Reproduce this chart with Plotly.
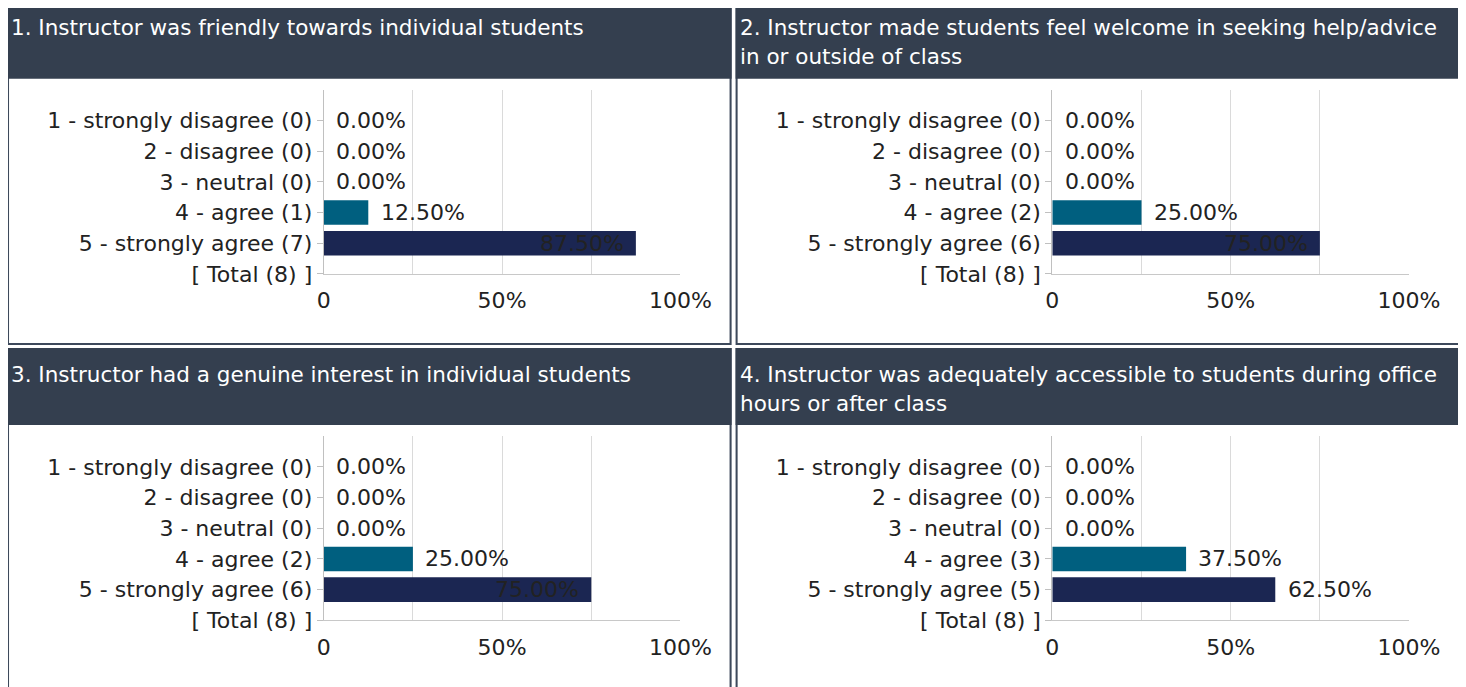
import plotly.graph_objects as go

# the capture comes back slightly shrunk (measured on earlier runs), so reference
# pixel positions are mapped through that to page pixels
AX, BX = 0.9724, 7.2
AY, BY = 0.98, -0.4
OX, OY = 8, 8  # body margin
W = round((1466 - BX) / AX) - OX
H = round((687 - BY) / AY) - OY
K = 1 / ((AX + AY) / 2)  # size factor for fonts / pixel lengths

QUESTIONS = [
    ["1. Instructor was friendly towards individual students"],
    ["2. Instructor made students feel welcome in seeking help/advice", "in or outside of class"],
    ["3. Instructor had a genuine interest in individual students"],
    ["4. Instructor was adequately accessible to students during office", "hours or after class"],
]
OPTIONS = ["1 - strongly disagree", "2 - disagree", "3 - neutral", "4 - agree", "5 - strongly agree"]
COUNTS = [
    [0, 0, 0, 1, 7],
    [0, 0, 0, 2, 6],
    [0, 0, 0, 2, 6],
    [0, 0, 0, 3, 5],
]
BAR_COLORS = ["#7a1f2b", "#b5651d", "#8c8c8c", "#005f7f", "#1b2652"]

HEADER_BG = "#343f4f"
BORDER = "#3d495b"
TEXT = "#222222"
FONT = "DejaVu Sans"
FS = 21.5 * K
FS_HEAD = 21 * K


def fx(x):
    return ((x - BX) / AX - OX) / W


def fy(y):
    return 1 - ((y - BY) / AY - OY) / H


fig = go.Figure()
shapes = []
annotations = []

for i, (lines, counts) in enumerate(zip(QUESTIONS, COUNTS)):
    col, row = i % 2, i // 2
    dx, dy = col * 727, row * 346
    n = i + 1
    xa = "x" if n == 1 else f"x{n}"
    ya = "y" if n == 1 else f"y{n}"
    total = sum(counts)
    pct = [c / total * 100 for c in counts]

    # panel frame + header band
    shapes.append(dict(type="rect", xref="paper", yref="paper",
                       x0=fx(8 + dx), x1=fx(729 + dx),
                       y0=fy(343 + dy + (400 if row else 0)), y1=fy(2 + dy),
                       line=dict(color=BORDER, width=2 * K), fillcolor="rgba(0,0,0,0)", layer="below"))
    shapes.append(dict(type="rect", xref="paper", yref="paper",
                       x0=fx(7 + dx), x1=fx(730 + dx), y0=fy(78 + dy), y1=fy(1 + dy),
                       line=dict(width=0), fillcolor=HEADER_BG, layer="below"))
    for j, line in enumerate(lines):
        annotations.append(dict(xref="paper", yref="paper", x=fx(9 + dx), y=fy(27 + 29 * j + dy),
                                xanchor="left", yanchor="middle", align="left", showarrow=False,
                                text=line, font=dict(family=FONT, size=FS_HEAD, color="white")))

    fig.add_trace(go.Bar(
        x=pct, y=list(range(len(OPTIONS))), orientation="h", width=0.8,
        marker=dict(color=BAR_COLORS, line=dict(width=0)),
        xaxis=xa, yaxis=ya, showlegend=False, hoverinfo="skip",
    ))

    for k, v in enumerate(pct):
        inside = v >= 75
        annotations.append(dict(xref=xa, yref=ya, x=v, y=k, showarrow=False,
                                xanchor="right" if inside else "left",
                                xshift=-10 * K if inside else 10 * K,
                                text=f"{v:.2f}%",
                                font=dict(family=FONT, size=FS, color=TEXT)))

    ticktext = [f"{o} ({c})" for o, c in zip(OPTIONS, counts)] + [f"[ Total ({total}) ]"]
    fig.layout[("xaxis" if n == 1 else f"xaxis{n}")] = dict(
        domain=[fx(323 + dx), fx(679 + dx)], range=[0, 100], anchor=ya,
        tickmode="array", tickvals=[0, 25, 50, 75, 100], ticktext=["0", "", "50%", "", "100%"],
        showgrid=True, gridcolor="#dadada", gridwidth=1, zeroline=False,
        showline=True, linecolor="#c8c8c8", linewidth=1,
        ticks="outside", ticklen=7, tickcolor="rgba(0,0,0,0)",
        tickfont=dict(family=FONT, size=FS, color=TEXT), fixedrange=True,
    )
    fig.layout[("yaxis" if n == 1 else f"yaxis{n}")] = dict(
        domain=[fy(273 + dy), fy(89 + dy)], range=[5, -1], anchor=xa,
        tickmode="array", tickvals=list(range(6)), ticktext=ticktext,
        showgrid=False, zeroline=False, showline=True, linecolor="#c0c0c0", linewidth=1,
        ticks="outside", ticklen=6, tickcolor="#c0c0c0",
        tickfont=dict(family=FONT, size=FS, color=TEXT), fixedrange=True,
    )

fig.update_layout(
    width=W, height=H, autosize=False,
    margin=dict(l=0, r=0, t=0, b=0),
    paper_bgcolor="white", plot_bgcolor="rgba(0,0,0,0)",
    shapes=shapes, annotations=annotations,
    font=dict(family=FONT, size=FS, color=TEXT),
    bargap=0.2,
)

fig.write_html("out.html")
